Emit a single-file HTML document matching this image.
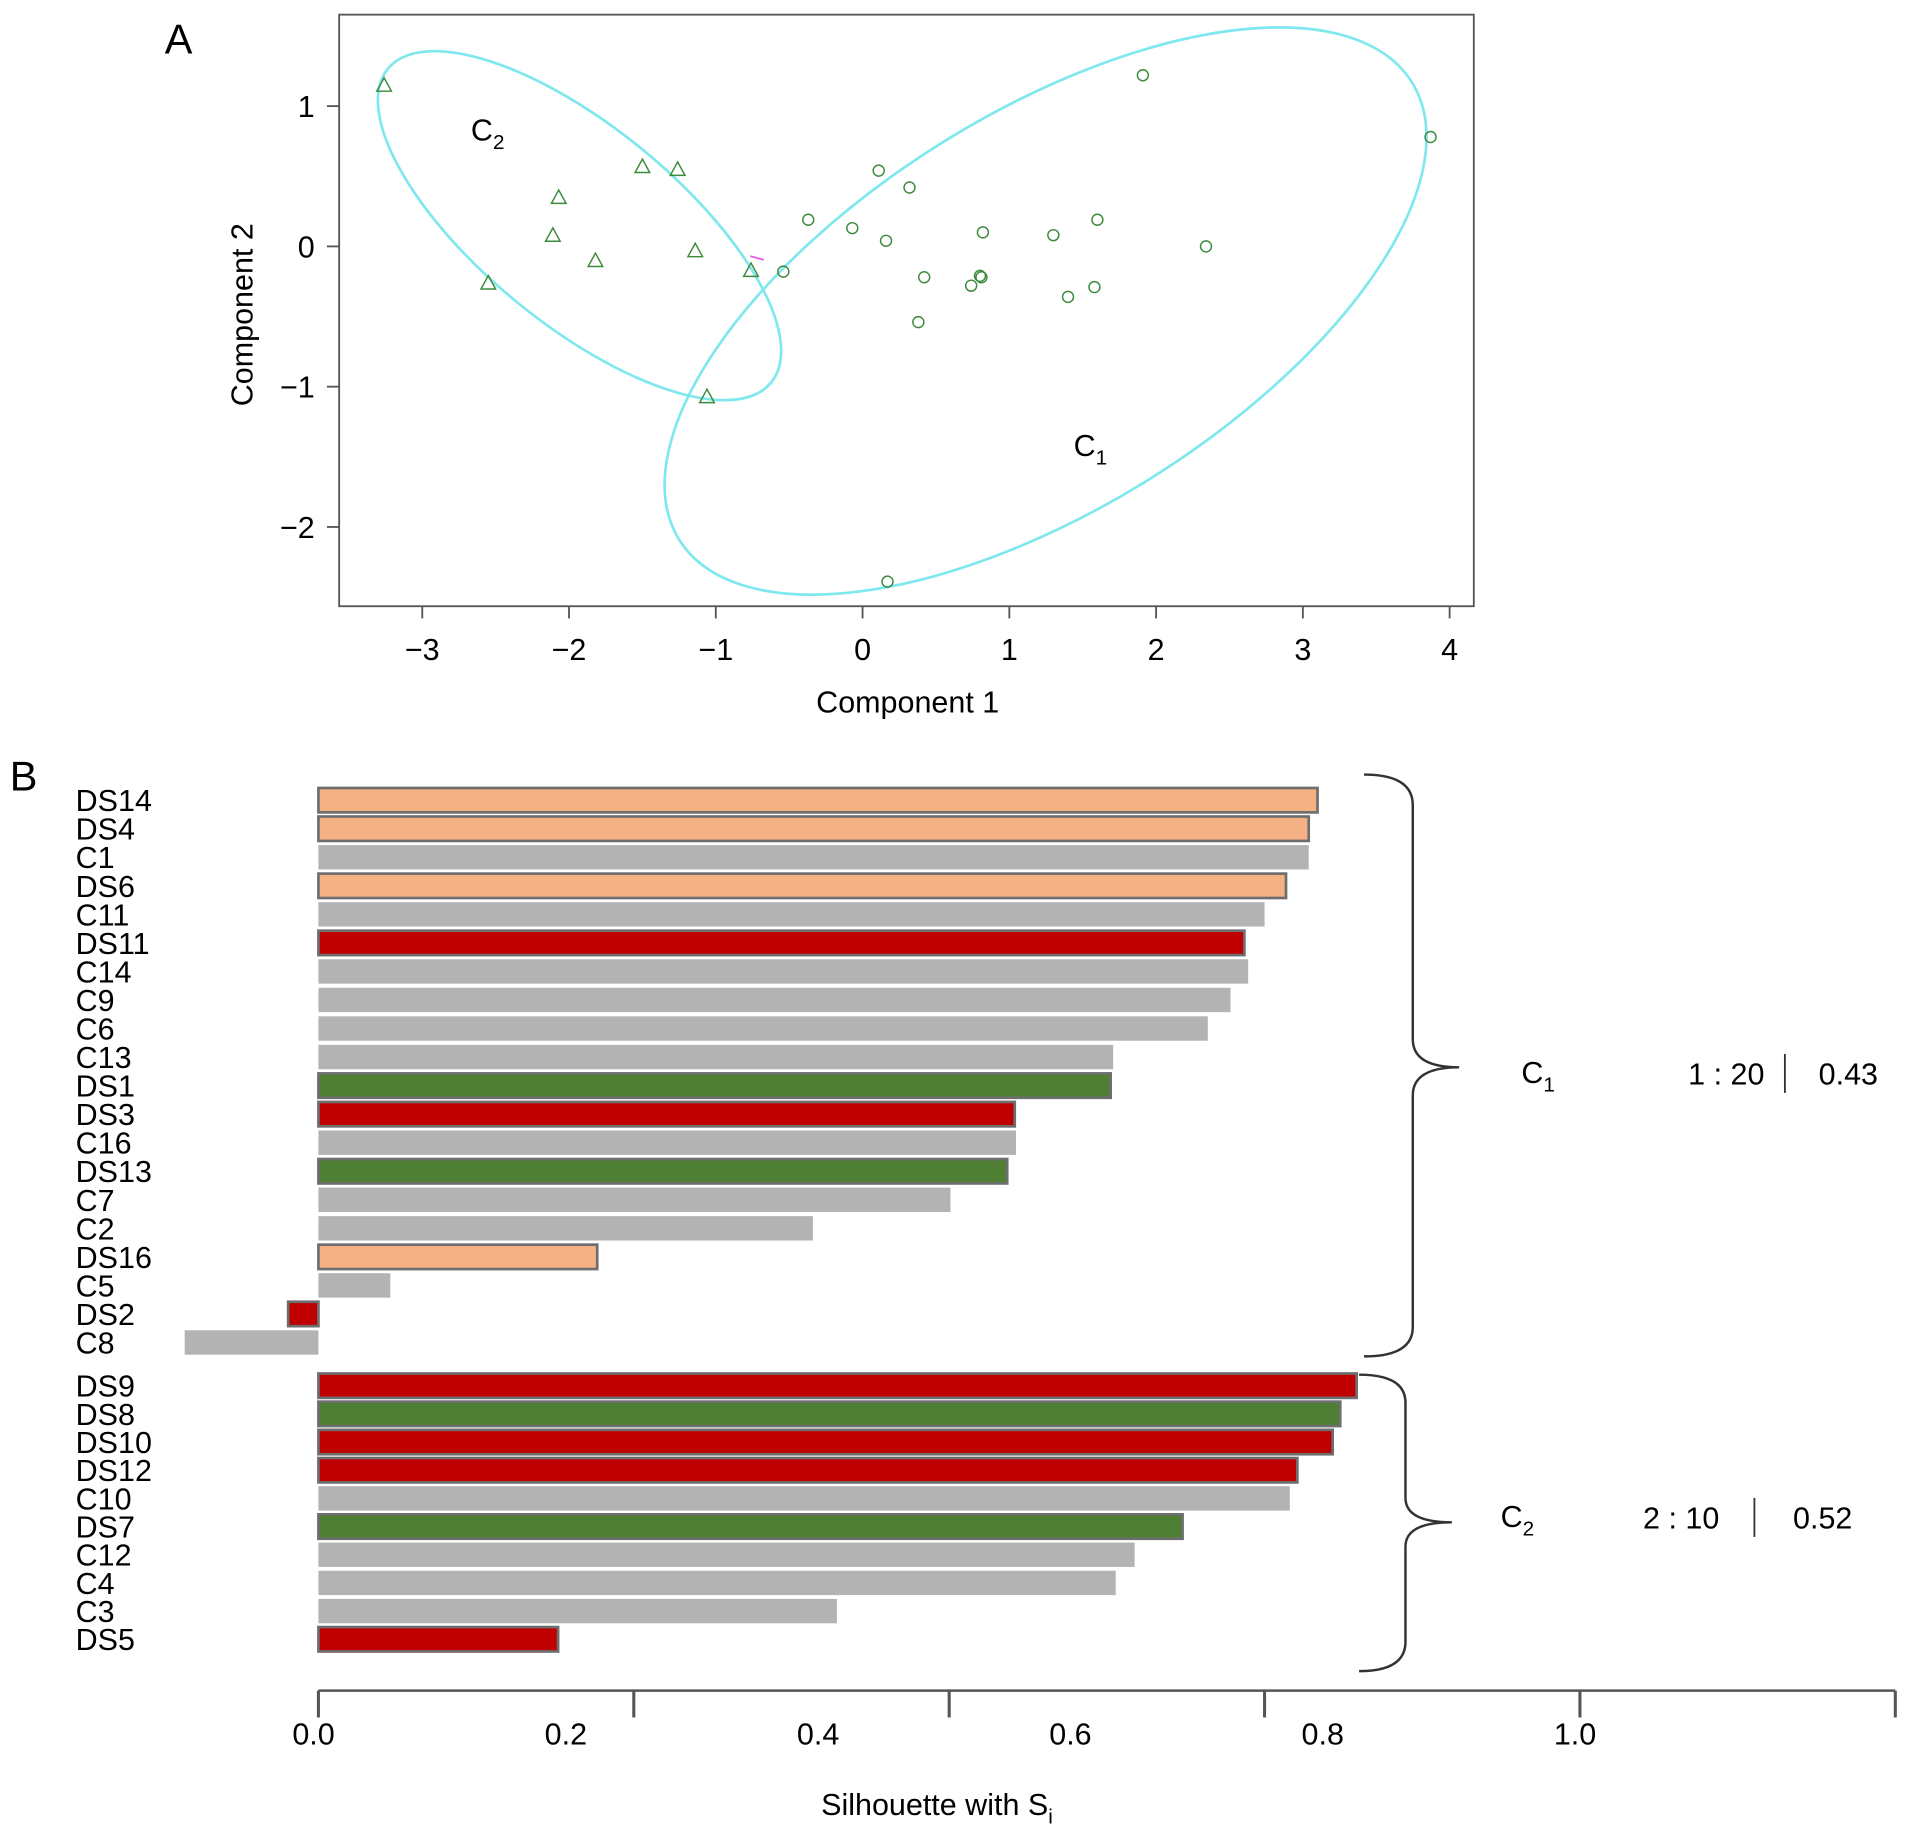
<!DOCTYPE html>
<html><head><meta charset="utf-8"><style>
html,body{margin:0;padding:0;background:#fff}
svg{display:block;font-family:"Liberation Sans",sans-serif}
</style></head><body>
<svg id="fig" width="1913" height="1837" viewBox="0 0 1568 1506" preserveAspectRatio="none" xmlns="http://www.w3.org/2000/svg">
<g id="pa"></g>
<g id="pb"></g>
</svg>
<script>
// Panel A data
const c1x=[1.91,3.87,0.11,0.32,-0.37,-0.07,0.16,0.82,1.3,1.6,2.34,-0.54,0.42,0.8,0.81,0.74,1.4,1.58,0.38,0.17];
const c1y=[1.22,0.78,0.54,0.42,0.19,0.13,0.04,0.1,0.08,0.19,0,-0.18,-0.22,-0.21,-0.22,-0.28,-0.36,-0.29,-0.54,-2.39];
const c2x=[-3.26,-1.5,-1.26,-2.07,-2.11,-1.82,-1.14,-0.76,-2.55,-1.06];
const c2y=[1.15,0.57,0.55,0.35,0.08,-0.1,-0.03,-0.17,-0.26,-1.07];
const xTicksA=[-3,-2,-1,0,1,2,3,4];
const yTicksA=[1,0,-1,-2];
// Panel B data
const g1Labels=["DS14","DS4","C1","DS6","C11","DS11","C14","C9","C6","C13","DS1","DS3","C16","DS13","C7","C2","DS16","C5","DS2","C8"];
const g1Values=[0.792,0.785,0.785,0.767,0.750,0.734,0.737,0.723,0.705,0.630,0.628,0.552,0.553,0.546,0.501,0.392,0.221,0.057,-0.024,-0.106];
const g1Types=["o","o","g","o","g","r","g","g","g","g","G","r","g","G","g","g","o","g","r","g"];
const g2Labels=["DS9","DS8","DS10","DS12","C10","DS7","C12","C4","C3","DS5"];
const g2Values=[0.823,0.810,0.804,0.776,0.770,0.685,0.647,0.632,0.411,0.190];
const g2Types=["r","G","r","r","g","G","g","g","g","r"];
const xTickValsB=[0,0.25,0.5,0.75,1,1.25];
const xLabelsB=["0.0","0.2","0.4","0.6","0.8","1.0"];

const NS="http://www.w3.org/2000/svg";
function mk(parent,tag,attrs,text){const e=document.createElementNS(NS,tag);for(const k in attrs)e.setAttribute(k,attrs[k]);if(text!==undefined)e.textContent=text;parent.appendChild(e);return e;}
const pa=document.getElementById('pa'),pb=document.getElementById('pb');
const ax=v=>707+v*120.3, ay=v=>202-v*115;
let e;
e=mk(pa,'text',{x:135,y:44,'font-size':34},'A');


e=mk(pa,'rect',{x:278,y:12,width:930,height:485,fill:'none',stroke:'#555','stroke-width':1.5});


e=mk(pa,'ellipse',{cx:475,cy:185,rx:203,ry:81,transform:'rotate(39.3 475 185)',fill:'none',stroke:'#7fe8ee','stroke-width':2.2});


e=mk(pa,'ellipse',{cx:857,cy:255,rx:354,ry:162,transform:'rotate(-32 857 255)',fill:'none',stroke:'#7fe8ee','stroke-width':2.2});


e=mk(pa,'line',{x1:615,y1:210,x2:626,y2:213,stroke:'#e060e0','stroke-width':1.5});


xTicksA.forEach(t=>{
 e=mk(pa,'line',{x1:ax(t),y1:497,x2:ax(t),y2:507,stroke:'#555','stroke-width':1.5});
 
 
 e=mk(pa,'text',{x:ax(t),y:541,'font-size':25,'text-anchor':'middle'},(t<0?'\u2212':'')+Math.abs(t));
 
 
});
yTicksA.forEach(t=>{
 e=mk(pa,'line',{x1:268,y1:ay(t),x2:278,y2:ay(t),stroke:'#555','stroke-width':1.5});
 
 
 e=mk(pa,'text',{x:258,y:ay(t)+9,'font-size':25,'text-anchor':'end'},(t<0?'\u2212':'')+Math.abs(t));
 
 
});
e=mk(pa,'text',{x:744,y:584,'font-size':25,'text-anchor':'middle'},'Component 1');


e=mk(pa,'text',{x:0,y:0,'font-size':25,'text-anchor':'middle',transform:'translate(207 258) rotate(-90)'},'Component 2');


c1x.forEach((v,i)=>{
 e=mk(pa,'circle',{cx:ax(v),cy:ay(c1y[i]),r:4.5,fill:'none',stroke:'#3d8a3d','stroke-width':1.2});
 
 
});
c2x.forEach((v,i)=>{
 const x=ax(v),y=ay(c2y[i]);
 e=mk(pa,'polygon',{points:`${x},${y-6} ${x-6},${y+5} ${x+6},${y+5}`,fill:'none',stroke:'#3d8a3d','stroke-width':1.2});
 
 
});
e=mk(pa,'text',{x:386,y:115,'font-size':25},'C');


mk(e,'tspan',{'font-size':17,dy:7},'2');
e=mk(pa,'text',{x:880,y:374,'font-size':25},'C');


mk(e,'tspan',{'font-size':17,dy:7},'1');

// Panel B
const bx=v=>261+v*1034;
e=mk(pb,'text',{x:8,y:648,'font-size':34},'B');


const fills={o:'#f4b183',g:'#b3b3b3',r:'#c00000',G:'#4e7f33'};
function drawGroup(labels,vals,types,y0,step){
 labels.forEach((lab,i)=>{
  const y=y0+i*step, v=vals[i], t=types[i];
  const x1=Math.min(bx(0),bx(v)), w=Math.abs(bx(v)-bx(0));
  const bordered=t!=='g';
  e=mk(pb,'rect',{x:x1,y:y-10,width:w,height:20,fill:fills[t],stroke:bordered?'#6e6e6e':'none','stroke-width':bordered?2.2:0});
  
  
  e=mk(pb,'text',{x:62,y:y+9,'font-size':25},lab);
  
  
 });
}
drawGroup(g1Labels,g1Values,g1Types,656,23.4);
drawGroup(g2Labels,g2Values,g2Types,1136,23.1);
e=mk(pb,'line',{x1:bx(0),y1:1386,x2:bx(1.25),y2:1386,stroke:'#555','stroke-width':2});


xTickValsB.forEach(t=>{
 e=mk(pb,'line',{x1:bx(t),y1:1386,x2:bx(t),y2:1408,stroke:'#555','stroke-width':2.5});
 
 
});
xLabelsB.forEach(l=>{
 e=mk(pb,'text',{x:bx(parseFloat(l))-4,y:1430,'font-size':25,'text-anchor':'middle'},l);
 
 
});
e=mk(pb,'text',{x:768,y:1488,'font-size':25,'text-anchor':'middle'},'Silhouette with S');


mk(e,'tspan',{'font-size':17,dy:7},'i');
e=mk(pb,'path',{d:'M1118,635 Q1158,635 1158,660 L1158,852 Q1158,875 1196,875 Q1158,875 1158,898 L1158,1088 Q1158,1112 1118,1112',fill:'none',stroke:'#333','stroke-width':2});


e=mk(pb,'path',{d:'M1114,1127 Q1152,1127 1152,1150 L1152,1228 Q1152,1248 1190,1248 Q1152,1248 1152,1268 L1152,1346 Q1152,1370 1114,1370',fill:'none',stroke:'#333','stroke-width':2});


function summary(lbl,sub,y,xc,cnt,xn,xb,val,xv,nm){
 e=mk(pb,'text',{x:xc,y:y+8,'font-size':25},lbl);
 
 
 mk(e,'tspan',{'font-size':17,dy:7},sub);
 e=mk(pb,'text',{x:xn,y:y+9,'font-size':25,'text-anchor':'middle'},cnt);
 
 
 e=mk(pb,'line',{x1:xb,y1:y-16,x2:xb,y2:y+16,stroke:'#333','stroke-width':1.5});
 
 
 e=mk(pb,'text',{x:xv,y:y+9,'font-size':25,'text-anchor':'middle'},val);
 
 
}
summary('C','1',880,1247,'1 : 20',1415,1463,'0.43',1515,'cluster-1-summary');
summary('C','2',1244,1230,'2 : 10',1378,1438,'0.52',1494,'cluster-2-summary');
</script>
</body></html>
